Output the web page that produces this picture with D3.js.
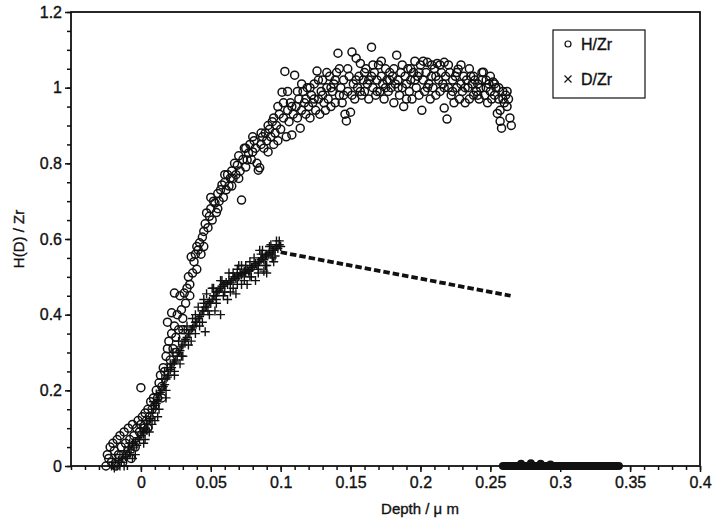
<!DOCTYPE html>
<html>
<head>
<meta charset="utf-8">
<script src="https://cdn.jsdelivr.net/npm/d3@7"></script>
<style>
  body { margin: 0; background: #fff; }
  svg { display: block; }
  text { font-family: "Liberation Sans", Arial, Helvetica, sans-serif; fill: #111; stroke: #111; stroke-width: 0.35px; }
</style>
</head>
<body>
<svg id="chart" width="715" height="522"></svg>
<script>
// axis ticks
const xTicks = [0, 0.05, 0.1, 0.15, 0.2, 0.25, 0.3, 0.35, 0.4];
const yTicks = [0, 0.2, 0.4, 0.6, 0.8, 1, 1.2];

// H/Zr (open circles), [depth, ratio]
const hzr = [
  [-0.025,0.00],[-0.024,0.03],[-0.023,0.02],[-0.022,0.05],[-0.021,0.01],[-0.020,0.06],[-0.019,0.04],[-0.018,0.00],
  [-0.017,0.07],[-0.016,0.03],[-0.015,0.08],[-0.014,0.05],[-0.013,0.01],[-0.012,0.09],[-0.011,0.06],[-0.010,0.03],
  [-0.009,0.10],[-0.008,0.07],[-0.007,0.02],[-0.006,0.11],[-0.005,0.08],[-0.004,0.05],[-0.003,0.10],[-0.002,0.12],
  [-0.001,0.09],[0.000,0.207],[0.000,0.11],[0.001,0.13],[0.002,0.10],[0.003,0.14],[0.004,0.12],[0.005,0.15],
  [0.006,0.13],[0.007,0.17],[0.008,0.15],[0.009,0.18],[0.010,0.16],[0.011,0.20],[0.012,0.18],[0.013,0.22],
  [0.014,0.24],[0.015,0.21],[0.016,0.26],[0.017,0.25],[0.018,0.29],[0.019,0.31],[0.019,0.38],[0.020,0.33],
  [0.021,0.28],[0.022,0.405],[0.022,0.35],[0.023,0.31],[0.024,0.457],[0.024,0.37],[0.025,0.34],[0.026,0.40],
  [0.027,0.36],[0.028,0.45],[0.029,0.413],[0.030,0.39],[0.031,0.457],[0.032,0.43],[0.033,0.47],[0.034,0.50],
  [0.035,0.48],[0.036,0.553],[0.037,0.51],[0.038,0.54],[0.039,0.56],[0.040,0.52],[0.041,0.571],[0.042,0.59],
  [0.043,0.56],[0.044,0.605],[0.045,0.62],[0.046,0.64],[0.047,0.669],[0.048,0.63],[0.049,0.66],[0.050,0.68],
  [0.051,0.65],[0.052,0.70],[0.053,0.695],[0.054,0.67],[0.055,0.72],[0.056,0.70],[0.057,0.73],[0.058,0.743],
  [0.059,0.71],[0.060,0.75],[0.061,0.73],[0.062,0.77],[0.063,0.74],[0.064,0.761],[0.065,0.78],[0.066,0.76],
  [0.067,0.80],[0.068,0.77],[0.069,0.795],[0.070,0.82],[0.071,0.78],[0.072,0.703],[0.073,0.81],[0.074,0.84],
  [0.075,0.79],[0.076,0.809],[0.077,0.827],[0.078,0.85],[0.079,0.81],[0.080,0.83],[0.081,0.86],[0.082,0.84],
  [0.083,0.80],[0.084,0.782],[0.085,0.788],[0.086,0.85],[0.087,0.87],[0.088,0.84],[0.089,0.88],[0.090,0.86],
  [0.091,0.83],[0.092,0.89],[0.093,0.87],[0.094,0.91],[0.095,0.85],[0.096,0.88],[0.097,0.90],[0.098,0.86],
  [0.099,0.93],[0.100,0.89],[0.101,0.988],[0.102,0.92],[0.103,1.043],[0.104,0.87],[0.105,0.94],[0.106,0.91],
  [0.107,0.96],[0.108,0.875],[0.109,0.93],[0.110,1.033],[0.111,0.95],[0.112,0.92],[0.113,0.97],[0.114,0.893],
  [0.115,0.94],[0.116,0.99],[0.117,0.96],[0.118,0.93],[0.119,1.00],[0.120,0.95],[0.121,0.92],[0.122,0.98],
  [0.123,0.96],[0.124,1.01],[0.125,0.94],[0.126,1.044],[0.127,0.97],[0.128,0.93],[0.129,0.99],[0.130,1.02],
  [0.131,0.96],[0.132,0.94],[0.133,1.00],[0.134,0.97],[0.135,1.03],[0.136,0.95],[0.137,0.99],[0.138,1.01],
  [0.139,0.96],[0.140,1.04],[0.141,1.091],[0.142,0.98],[0.143,1.00],[0.144,0.96],[0.145,1.02],[0.146,0.93],
  [0.147,0.912],[0.148,0.99],[0.149,1.03],[0.150,0.935],[0.151,1.094],[0.152,1.01],[0.153,0.97],[0.154,1.078],
  [0.155,1.00],[0.156,1.03],[0.157,1.064],[0.158,0.98],[0.159,1.02],[0.160,0.99],[0.161,1.05],[0.162,1.01],
  [0.163,0.97],[0.165,1.107],[0.165,1.03],[0.166,1.00],[0.167,1.04],[0.168,0.98],[0.169,1.02],[0.170,1.06],
  [0.171,0.99],[0.172,1.03],[0.173,1.01],[0.174,0.97],[0.175,1.05],[0.176,1.02],[0.177,0.99],[0.178,1.04],
  [0.179,1.00],[0.180,1.03],[0.181,0.96],[0.182,1.01],[0.183,1.086],[0.184,1.02],[0.185,0.98],[0.186,1.04],
  [0.187,1.00],[0.188,0.95],[0.189,1.03],[0.190,1.01],[0.191,1.05],[0.192,0.99],[0.193,1.02],[0.194,0.97],
  [0.195,1.04],[0.196,1.07],[0.197,1.00],[0.198,1.03],[0.199,0.98],[0.200,1.06],[0.201,0.94],[0.202,1.02],
  [0.203,0.99],[0.204,1.04],[0.205,1.067],[0.206,1.01],[0.207,0.97],[0.208,1.03],[0.209,1.00],[0.210,1.05],
  [0.211,0.98],[0.212,1.064],[0.213,1.02],[0.214,0.99],[0.215,1.04],[0.216,1.01],[0.217,0.946],[0.217,1.067],
  [0.218,1.03],[0.219,0.917],[0.220,1.00],[0.221,1.04],[0.222,0.98],[0.223,1.02],[0.224,0.96],[0.225,1.03],
  [0.226,1.00],[0.227,1.049],[0.228,0.97],[0.229,1.01],[0.230,0.99],[0.231,1.03],[0.232,0.96],[0.233,1.02],
  [0.234,1.00],[0.235,0.97],[0.236,1.03],[0.237,1.01],[0.238,0.98],[0.239,1.02],[0.240,0.99],[0.241,1.01],
  [0.242,0.97],[0.243,1.00],[0.244,1.02],[0.245,1.041],[0.246,0.98],[0.247,1.00],[0.248,0.96],[0.249,1.01],
  [0.250,0.99],[0.251,0.97],[0.252,1.015],[0.253,0.98],[0.254,1.00],[0.255,0.932],[0.256,0.97],[0.257,0.94],
  [0.257,0.911],[0.258,0.893],[0.259,0.99],[0.260,0.96],[0.261,0.98],[0.262,0.95],[0.263,0.97],[0.264,0.92],
  [0.265,0.90],
  [0.102,0.96],[0.105,0.99],[0.108,0.95],[0.112,0.99],[0.115,1.01],[0.118,0.97],[0.121,1.00],[0.124,0.97],
  [0.127,1.02],[0.130,0.98],[0.133,1.04],[0.136,1.00],[0.139,1.02],[0.142,1.05],[0.145,0.98],[0.148,1.05],
  [0.151,0.98],[0.154,1.02],[0.157,0.99],[0.160,1.04],[0.163,1.02],[0.166,1.06],[0.169,0.99],[0.172,1.07],
  [0.175,1.00],[0.178,1.02],[0.181,1.05],[0.184,1.00],[0.187,1.06],[0.190,0.97],[0.193,1.05],[0.196,1.02],
  [0.199,1.04],[0.202,1.07],[0.205,1.00],[0.208,1.06],[0.211,1.03],[0.214,1.06],[0.217,1.00],[0.220,1.06],
  [0.223,0.99],[0.226,1.04],[0.229,1.06],[0.232,1.00],[0.235,1.05],[0.238,1.03],[0.241,0.98],[0.244,1.04],
  [0.247,1.02],[0.250,1.03],[0.253,1.01],[0.256,1.00],[0.259,0.97],[0.262,0.99],[0.086,0.88],[0.091,0.90],
  [0.095,0.92],[0.098,0.95],[0.050,0.71],[0.055,0.68],[0.060,0.77],[0.065,0.74],[0.070,0.76],[0.075,0.84],
  [0.080,0.87],[0.030,0.36],[0.035,0.45],[0.040,0.58],[0.045,0.58],[0.025,0.30],[0.015,0.18],[0.005,0.10]
];

// D/Zr (crosses), [depth, ratio]
const dzr = [
  [-0.021,0.00],[-0.020,0.01],[-0.019,-0.005],[-0.018,0.02],[-0.017,0.00],[-0.016,0.015],[-0.015,0.03],[-0.014,0.01],
  [-0.013,0.02],[-0.012,0.04],[-0.011,0.025],[-0.010,0.03],[-0.009,0.05],[-0.008,0.035],[-0.007,0.045],[-0.006,0.06],
  [-0.005,0.05],[-0.004,0.065],[-0.003,0.055],[-0.002,0.075],[-0.001,0.07],[0.000,0.08],[0.001,0.09],[0.002,0.085],
  [0.003,0.10],[0.004,0.095],[0.005,0.11],[0.006,0.12],[0.007,0.125],[0.008,0.14],[0.009,0.15],[0.010,0.16],
  [0.011,0.165],[0.012,0.175],[0.013,0.18],[0.014,0.195],[0.015,0.20],[0.016,0.21],[0.017,0.215],[0.018,0.23],
  [0.019,0.235],[0.020,0.24],[0.021,0.255],[0.022,0.26],[0.023,0.27],[0.024,0.275],[0.025,0.28],[0.026,0.29],
  [0.027,0.30],[0.028,0.305],[0.029,0.315],[0.030,0.32],[0.031,0.33],[0.032,0.335],[0.033,0.34],[0.034,0.35],
  [0.035,0.35],[0.036,0.36],[0.037,0.365],[0.038,0.37],[0.039,0.38],[0.040,0.38],[0.041,0.39],[0.042,0.395],
  [0.043,0.40],[0.044,0.41],[0.045,0.41],[0.046,0.42],[0.047,0.42],[0.048,0.43],[0.049,0.435],[0.050,0.43],
  [0.051,0.44],[0.052,0.45],[0.053,0.45],[0.054,0.46],[0.055,0.46],[0.056,0.465],[0.057,0.47],[0.058,0.475],
  [0.059,0.48],[0.060,0.48],[0.061,0.485],[0.062,0.48],[0.063,0.49],[0.064,0.484],[0.065,0.49],[0.066,0.495],
  [0.067,0.50],[0.068,0.495],[0.069,0.505],[0.070,0.50],[0.071,0.51],[0.072,0.505],[0.073,0.51],[0.074,0.515],
  [0.075,0.51],[0.076,0.52],[0.077,0.515],[0.078,0.518],[0.079,0.525],[0.080,0.525],[0.081,0.53],[0.082,0.535],
  [0.083,0.53],[0.084,0.54],[0.085,0.54],[0.086,0.545],[0.087,0.55],[0.088,0.545],[0.089,0.555],[0.090,0.558],
  [0.091,0.56],[0.092,0.565],[0.093,0.56],[0.094,0.57],[0.095,0.57],[0.096,0.575],[0.097,0.58],[0.098,0.575],
  [0.099,0.585],[0.100,0.58],
  [-0.012,0.00],[-0.006,0.02],[0.002,0.06],[0.008,0.11],[0.013,0.15],[0.018,0.20],[0.024,0.25],[0.029,0.29],
  [0.034,0.32],[0.039,0.35],[0.044,0.38],[0.049,0.40],[0.054,0.43],[0.059,0.45],[0.064,0.46],[0.069,0.48],
  [0.074,0.49],[0.079,0.50],[0.084,0.52],[0.089,0.53],[0.094,0.55],[0.004,0.12],[0.011,0.19],[0.017,0.25],
  [0.023,0.30],[0.031,0.36],[0.037,0.39],[0.045,0.43],[0.052,0.47],[0.058,0.49],[0.066,0.51],[0.072,0.53],
  [0.078,0.54],[0.086,0.56],[0.092,0.58],[0.097,0.595],[0.046,0.355],[0.057,0.40],[0.076,0.48],[0.090,0.51],
  [0.000,0.10],[0.003,0.07],[0.006,0.09],[0.009,0.17],[0.012,0.13],[0.015,0.23],[0.018,0.18],[0.021,0.27],
  [0.024,0.24],[0.027,0.33],[0.030,0.29],[0.033,0.37],[0.036,0.33],[0.039,0.40],[0.042,0.37],[0.045,0.44],
  [0.048,0.41],[0.051,0.47],[0.054,0.44],[0.057,0.49],[0.060,0.46],[0.063,0.51],[0.066,0.47],[0.069,0.52],
  [0.072,0.48],[0.075,0.53],[0.078,0.50],[0.081,0.55],[0.084,0.51],[0.087,0.57],[0.090,0.53],[0.093,0.585],
  [0.096,0.555],[0.099,0.595],[0.062,0.44],[0.068,0.455],[0.082,0.49],[0.088,0.515],[0.095,0.54],[0.053,0.41],
  [0.041,0.42],[0.047,0.455],[0.028,0.27],[0.019,0.26],[0.010,0.12],[-0.004,0.03],[-0.015,0.00],[-0.008,0.06],
  [0.070,0.53],[0.085,0.57]
];

// straight dashed fit after the D/Zr profile
const dashX = [0.1, 0.2645];
const dashY = [0.565, 0.45];

// dense run of points along zero at large depth
const tailX = [0.259, 0.342];
const tailBumps = [[0.272,0.006],[0.279,0.007],[0.286,0.006],[0.293,0.004]];

const width = 715, height = 522;
const margin = {top: 12, right: 15, bottom: 56, left: 71};

const svg = d3.select("#chart");

const x = d3.scaleLinear().domain([-0.05, 0.4]).range([margin.left, width - margin.right]);
const y = d3.scaleLinear().domain([0, 1.2]).range([height - margin.bottom, margin.top]);

// minor ticks
svg.append("g")
    .attr("transform", `translate(0,${height - margin.bottom})`)
    .call(d3.axisBottom(x).tickValues(x.ticks(45)).tickSize(4).tickFormat(""))
    .call(g => g.select(".domain").remove())
    .call(g => g.selectAll("line").attr("stroke", "#111").attr("stroke-width", 1.5));

svg.append("g")
    .attr("transform", `translate(${margin.left},0)`)
    .call(d3.axisLeft(y).tickValues(y.ticks(24)).tickSize(4).tickFormat(""))
    .call(g => g.select(".domain").remove())
    .call(g => g.selectAll("line").attr("stroke", "#111").attr("stroke-width", 1.5));

// major ticks + labels
svg.append("g")
    .attr("transform", `translate(0,${height - margin.bottom})`)
    .call(d3.axisBottom(x).tickValues(xTicks).tickSize(6).tickPadding(5).tickFormat(d => d3.format("")(d)))
    .call(g => g.select(".domain").remove())
    .call(g => g.selectAll("line").attr("stroke", "#111").attr("stroke-width", 1.5))
    .call(g => g.selectAll("text").attr("font-size", 16).attr("fill", "#111"));

svg.append("g")
    .attr("transform", `translate(${margin.left},0)`)
    .call(d3.axisLeft(y).tickValues(yTicks).tickSize(6).tickPadding(3).tickFormat(d => d3.format("")(d)))
    .call(g => g.select(".domain").remove())
    .call(g => g.selectAll("line").attr("stroke", "#111").attr("stroke-width", 1.5))
    .call(g => g.selectAll("text").attr("font-size", 16).attr("fill", "#111"));

// frame
svg.append("rect")
    .attr("x", margin.left).attr("y", margin.top)
    .attr("width", width - margin.left - margin.right)
    .attr("height", height - margin.top - margin.bottom)
    .attr("fill", "none").attr("stroke", "#111").attr("stroke-width", 1.8);

// axis titles
svg.append("text")
    .attr("x", 420).attr("y", 514)
    .attr("text-anchor", "middle").attr("font-size", 15)
    .text("Depth /  \u03bc m");

svg.append("text")
    .attr("transform", `translate(24,${(y(0) + y(1.2)) / 2}) rotate(-90)`)
    .attr("text-anchor", "middle").attr("font-size", 15)
    .text("H(D) / Zr");

const plot = svg.append("g");

// dashed fit
plot.append("path")
    .datum(d3.zip(dashX, dashY))
    .attr("d", d3.line().x(d => x(d[0])).y(d => y(d[1])))
    .attr("fill", "none").attr("stroke", "#111")
    .attr("stroke-width", 3.8).attr("stroke-dasharray", "6.5,3");

// zero run
plot.append("line")
    .attr("x1", x(tailX[0])).attr("x2", x(tailX[1]))
    .attr("y1", y(0)).attr("y2", y(0))
    .attr("stroke", "#111").attr("stroke-width", 8).attr("stroke-linecap", "round");

plot.selectAll("circle.bump")
    .data(tailBumps)
    .join("circle")
    .attr("class", "bump")
    .attr("cx", d => x(d[0])).attr("cy", d => y(d[1]))
    .attr("r", 4).attr("fill", "#111");

// D/Zr crosses
plot.selectAll("path.d")
    .data(dzr)
    .join("path")
    .attr("class", "d")
    .attr("transform", d => `translate(${x(d[0])},${y(d[1])})`)
    .attr("d", "M-4.5,0H4.5M0,-4.5V4.5")
    .attr("stroke", "#111").attr("stroke-width", 1.4);

// H/Zr circles
plot.selectAll("circle.h")
    .data(hzr)
    .join("circle")
    .attr("class", "h")
    .attr("cx", d => x(d[0])).attr("cy", d => y(d[1]))
    .attr("r", 4)
    .attr("fill", "none").attr("stroke", "#111").attr("stroke-width", 1.5);

// legend
const lg = svg.append("g").attr("transform", "translate(553,30)");
lg.append("rect").attr("width", 92).attr("height", 68)
    .attr("fill", "#fff").attr("stroke", "#111").attr("stroke-width", 1.2);
lg.append("circle").attr("cx", 15).attr("cy", 14).attr("r", 3)
    .attr("fill", "none").attr("stroke", "#111").attr("stroke-width", 1.2);
lg.append("path").attr("transform", "translate(15,49)").attr("d", "M-3.5,-3.5L3.5,3.5M-3.5,3.5L3.5,-3.5")
    .attr("stroke", "#111").attr("stroke-width", 1.2);
lg.append("text").attr("x", 28).attr("y", 20).attr("font-size", 16).text("H/Zr");
lg.append("text").attr("x", 28).attr("y", 55).attr("font-size", 16).text("D/Zr");
</script>
</body>
</html>
